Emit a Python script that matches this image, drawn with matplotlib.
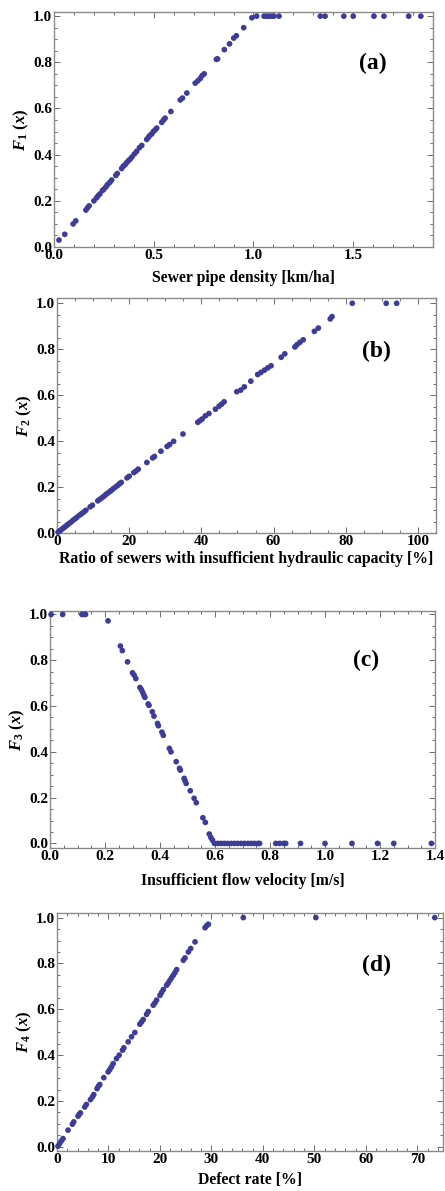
import numpy as np
import matplotlib
matplotlib.use("Agg")
import matplotlib.pyplot as plt
from matplotlib.ticker import MultipleLocator, FormatStrFormatter

# ---- data ----
# (a) sewer pipe density [km/ha]
x_a = [0.025, 0.054, 0.096, 0.109, 0.160, 0.168, 0.176, 0.200, 0.213, 0.221,
       0.230, 0.243, 0.250, 0.260, 0.268, 0.280, 0.289, 0.310, 0.317, 0.339,
       0.347, 0.356, 0.364, 0.372, 0.381, 0.391, 0.403, 0.414, 0.428, 0.440,
       0.465, 0.473, 0.480, 0.490, 0.498, 0.507, 0.515, 0.540, 0.549, 0.557,
       0.586, 0.633, 0.644, 0.666, 0.708, 0.721, 0.733, 0.742, 0.753, 0.814,
       0.820, 0.854, 0.880, 0.901, 0.914, 0.951, 0.992, 1.016, 1.053, 1.066,
       1.080, 1.092, 1.103, 1.128, 1.335, 1.359, 1.453, 1.500, 1.604, 1.654,
       1.778, 1.839]
y_a = [0.030, 0.055, 0.100, 0.113, 0.160, 0.170, 0.178, 0.200, 0.213, 0.222,
       0.230, 0.245, 0.250, 0.260, 0.270, 0.280, 0.290, 0.310, 0.318, 0.340,
       0.350, 0.356, 0.365, 0.373, 0.380, 0.390, 0.403, 0.414, 0.430, 0.440,
       0.466, 0.475, 0.483, 0.490, 0.500, 0.507, 0.515, 0.540, 0.550, 0.558,
       0.587, 0.637, 0.645, 0.667, 0.710, 0.720, 0.730, 0.742, 0.750, 0.813,
       0.815, 0.855, 0.880, 0.905, 0.915, 0.950, 0.993, 1.000, 1.000, 1.000,
       1.000, 1.000, 1.000, 1.000, 1.000, 1.000, 1.000, 1.000, 1.000, 1.000,
       1.000, 1.000]

# (b) ratio of sewers with insufficient hydraulic capacity [%]
x_b = [0.3, 0.6, 1.0, 1.4, 1.8, 2.2, 2.6, 3.0, 3.5, 4.0, 4.5, 5.0, 5.5, 6.2,
       6.8, 7.4, 8.0, 9.2, 9.8, 11.3, 11.9, 12.5, 13.0, 13.5, 14.0, 14.6,
       15.1, 15.6, 16.2, 16.8, 17.3, 17.8, 19.4, 20.0, 21.3, 21.9, 22.5, 24.9,
       26.5, 27.0, 28.8, 30.5, 31.2, 32.3, 34.9, 39.0, 39.6, 40.2, 41.1, 42.1,
       43.9, 44.9, 45.6, 46.3, 49.8, 50.9, 51.9, 53.7, 55.6, 56.5, 57.5, 58.4,
       59.3, 62.1, 63.1, 65.9, 66.5, 67.3, 68.2, 71.3, 72.4, 75.7, 76.2, 81.8,
       91.2, 94.1]
y_b = [0.004, 0.007, 0.012, 0.017, 0.022, 0.027, 0.032, 0.037, 0.043, 0.049,
       0.056, 0.062, 0.068, 0.077, 0.084, 0.091, 0.099, 0.114, 0.121, 0.140,
       0.147, 0.154, 0.160, 0.167, 0.173, 0.180, 0.186, 0.193, 0.200, 0.207,
       0.214, 0.220, 0.240, 0.247, 0.263, 0.270, 0.278, 0.307, 0.327, 0.333,
       0.356, 0.377, 0.385, 0.399, 0.431, 0.482, 0.489, 0.496, 0.510, 0.520,
       0.539, 0.552, 0.561, 0.571, 0.615, 0.622, 0.636, 0.661, 0.690, 0.699,
       0.709, 0.719, 0.728, 0.765, 0.780, 0.810, 0.820, 0.830, 0.841, 0.878,
       0.892, 0.932, 0.942, 1.000, 1.000, 1.000]

# (c) insufficient flow velocity [m/s]
x_c = [0.004, 0.046, 0.116, 0.122, 0.129, 0.211, 0.256, 0.263, 0.282, 0.300,
       0.306, 0.312, 0.327, 0.332, 0.337, 0.341, 0.345, 0.357, 0.360, 0.372,
       0.378, 0.391, 0.394, 0.407, 0.412, 0.434, 0.440, 0.459, 0.471, 0.474,
       0.488, 0.491, 0.495, 0.510, 0.524, 0.532, 0.556, 0.565, 0.579, 0.585,
       0.591, 0.598, 0.610, 0.622, 0.634, 0.646, 0.659, 0.671, 0.683, 0.695,
       0.707, 0.720, 0.732, 0.744, 0.756, 0.762, 0.821, 0.835, 0.850, 0.857,
       0.911, 1.000, 1.098, 1.191, 1.250, 1.387]
y_c = [1.000, 1.000, 1.000, 1.000, 1.000, 0.972, 0.862, 0.842, 0.793, 0.745,
       0.735, 0.720, 0.681, 0.672, 0.660, 0.648, 0.638, 0.609, 0.603, 0.575,
       0.556, 0.524, 0.514, 0.486, 0.472, 0.415, 0.400, 0.357, 0.328, 0.320,
       0.284, 0.274, 0.262, 0.230, 0.197, 0.178, 0.112, 0.092, 0.041, 0.026,
       0.014, 0.000, 0.000, 0.000, 0.000, 0.000, 0.000, 0.000, 0.000, 0.000,
       0.000, 0.000, 0.000, 0.000, 0.000, 0.000, 0.000, 0.000, 0.000, 0.000,
       0.000, 0.000, 0.000, 0.000, 0.000, 0.000]

# (d) defect rate [%]
x_d = [0.19, 0.52, 0.84, 1.17, 2.14, 2.99, 3.25, 4.09, 4.29, 4.55, 5.39, 5.71,
       6.49, 6.88, 7.14, 7.79, 8.05, 8.31, 9.09, 9.94, 10.26, 10.58, 10.91,
       11.56, 12.08, 12.73, 12.99, 13.83, 14.48, 15.13, 16.10, 16.43, 16.75,
       17.40, 17.73, 18.70, 19.03, 19.35, 20.00, 20.32, 20.65, 21.30, 21.62,
       21.95, 22.27, 22.60, 22.92, 23.25, 24.55, 24.87, 25.52, 25.97, 26.82,
       28.77, 29.09, 29.42, 36.2, 50.3, 73.4]
y_d = [0.003, 0.015, 0.026, 0.036, 0.073, 0.099, 0.109, 0.134, 0.141, 0.148,
       0.174, 0.185, 0.206, 0.218, 0.228, 0.254, 0.265, 0.272, 0.302, 0.327,
       0.337, 0.349, 0.363, 0.385, 0.400, 0.422, 0.432, 0.458, 0.480, 0.499,
       0.535, 0.545, 0.555, 0.578, 0.590, 0.618, 0.628, 0.640, 0.661, 0.673,
       0.686, 0.705, 0.715, 0.727, 0.738, 0.749, 0.760, 0.773, 0.814, 0.824,
       0.850, 0.865, 0.894, 0.956, 0.965, 0.971, 1.000, 1.000, 1.000]

plt.rcParams["font.family"] = ["Liberation Serif", "DejaVu Serif"]
plt.rcParams["font.weight"] = "bold"
plt.rcParams["mathtext.fontset"] = "custom"
plt.rcParams["mathtext.it"] = "Liberation Serif:italic:bold"
plt.rcParams["mathtext.rm"] = "Liberation Serif:bold"

W, H = 445, 1191
DOT = "#3d3d99"
FRAME = "#8a8a8a"

fig = plt.figure(figsize=(W / 100, H / 100), dpi=100)


def make_axes(left, right, top, bottom):
    """axes from pixel box (top-left origin)"""
    return fig.add_axes([left / W, 1 - bottom / H,
                         (right - left) / W, (bottom - top) / H])


def style_axes(ax, xmaj, xmin, xfmt, xlim, ylim, xlabel, ylabel, tag,
               tag_pos, xlabelpad):
    ax.set_xlim(*xlim)
    ax.set_ylim(*ylim)
    ax.xaxis.set_major_locator(MultipleLocator(xmaj))
    ax.xaxis.set_minor_locator(MultipleLocator(xmin))
    ax.yaxis.set_major_locator(MultipleLocator(0.2))
    ax.yaxis.set_minor_locator(MultipleLocator(0.05))
    ax.xaxis.set_major_formatter(FormatStrFormatter(xfmt))
    ax.yaxis.set_major_formatter(FormatStrFormatter("%.1f"))
    for sp in ax.spines.values():
        sp.set_color(FRAME)
        sp.set_linewidth(1.0)
    ax.tick_params(which="both", direction="in", top=True, right=True,
                   color="#555555", labelsize=11, width=0.6)
    ax.tick_params(which="major", length=4.5, pad=1.5)
    ax.tick_params(which="minor", length=2.5)
    ax.set_xlabel(xlabel, fontsize=11.3, fontweight="bold",
                  labelpad=xlabelpad)
    ax.set_ylabel(ylabel, fontsize=12, labelpad=1)
    ax.text(tag_pos[0], tag_pos[1], tag, transform=ax.transAxes,
            fontsize=17, fontweight="bold", ha="center", va="center")


ax_a = make_axes(54, 433, 12, 247)
ax_a.scatter(x_a, y_a, s=17, color=DOT, edgecolors="none", clip_on=False,
             zorder=3)
style_axes(ax_a, 0.5, 0.1, "%.1f", (0, 1.9), (0, 1.018),
           "Sewer pipe density [km/ha]", r"$F_{\mathit{1}}\ (x)$", "(a)",
           (0.842, 0.783), 6)

ax_b = make_axes(57, 436, 298, 533)
ax_b.scatter(x_b, y_b, s=17, color=DOT, edgecolors="none", clip_on=False,
             zorder=3)
style_axes(ax_b, 20, 5, "%d", (0, 105), (0, 1.023),
           "Ratio of sewers with insufficient hydraulic capacity [%]",
           r"$F_{\mathit{2}}\ (x)$", "(b)", (0.844, 0.771), 2)

ax_c = make_axes(50, 435, 611, 848)
ax_c.scatter(x_c, y_c, s=17, color=DOT, edgecolors="none", clip_on=False,
             zorder=3)
style_axes(ax_c, 0.2, 0.05, "%.1f", (0, 1.4), (-0.02, 1.015),
           "Insufficient flow velocity [m/s]", r"$F_{\mathit{3}}\ (x)$",
           "(c)", (0.82, 0.79), 7)

ax_d = make_axes(57, 443, 913, 1151)
ax_d.scatter(x_d, y_d, s=17, color=DOT, edgecolors="none", clip_on=False,
             zorder=3)
style_axes(ax_d, 10, 2, "%d", (0, 75), (-0.018, 1.02),
           "Defect rate [%]", r"$F_{\mathit{4}}\ (x)$", "(d)",
           (0.828, 0.78), 4)

fig.savefig("out.png", dpi=100)
